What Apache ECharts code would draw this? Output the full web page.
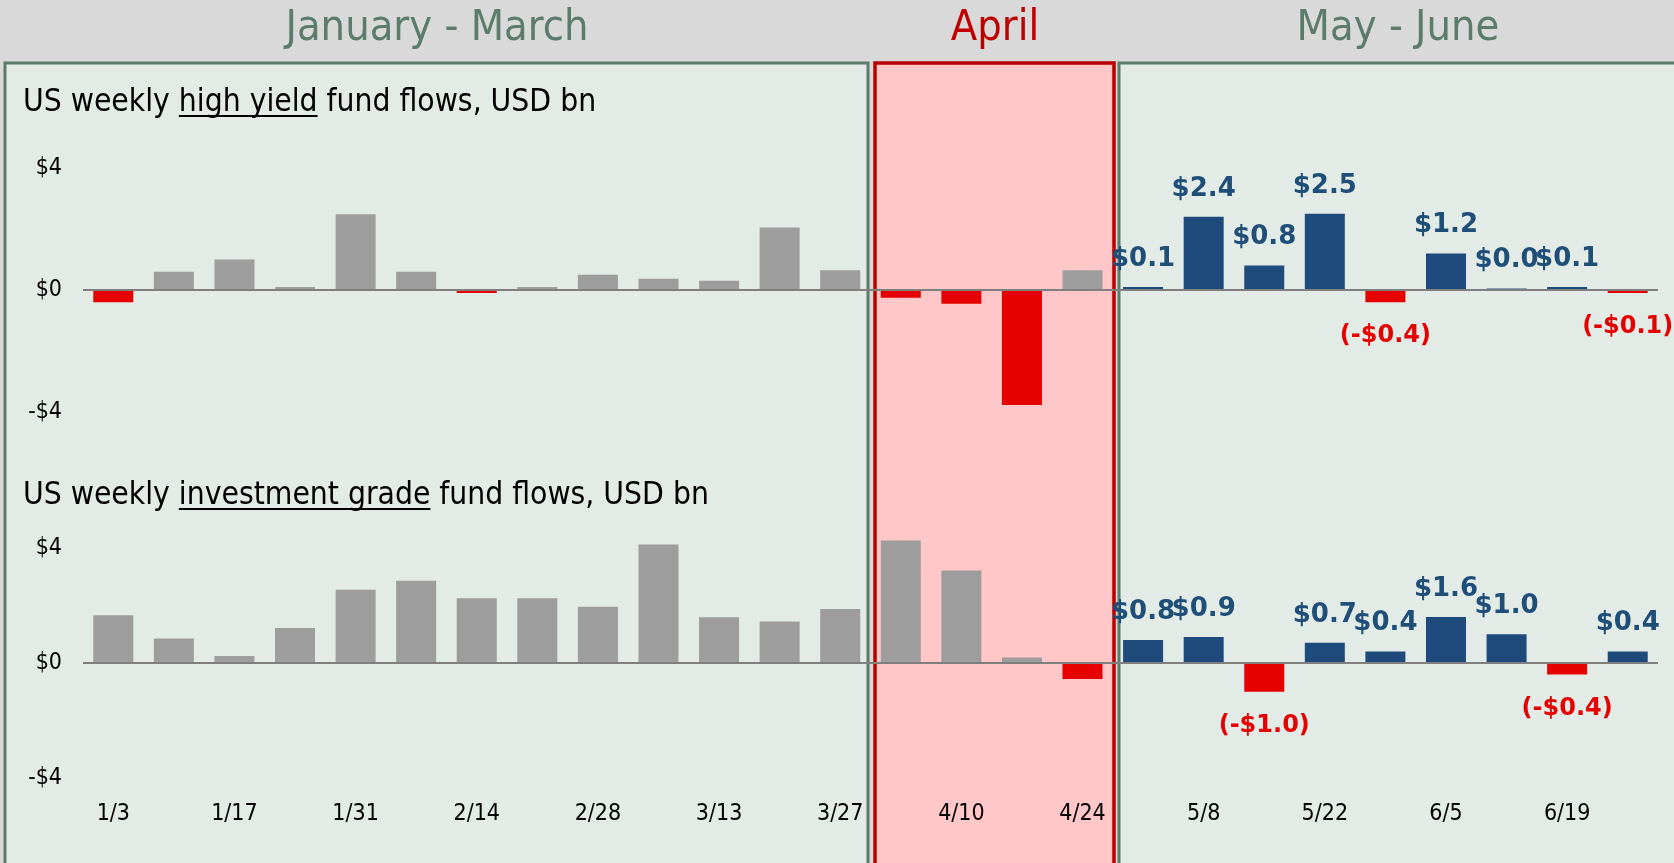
<!DOCTYPE html>
<html>
<head>
<meta charset="utf-8">
<title>US weekly fund flows</title>
<script src="https://cdn.jsdelivr.net/npm/echarts@6.0.0/dist/echarts.min.js"></script>
<style>
  html, body { margin: 0; padding: 0; background: #d9d9d9; }
  #chart { width: 1674px; height: 863px; }
</style>
</head>
<body>
<div id="chart"></div>
<script>
// weekly flows, USD bn
const weeks = ['1/3', '1/10', '1/17', '1/24', '1/31', '2/7', '2/14', '2/21', '2/28', '3/6', '3/13', '3/20', '3/27',
  '4/3', '4/10', '4/17', '4/24',
  '5/1', '5/8', '5/15', '5/22', '5/29', '6/5', '6/12', '6/19', '6/26']
const highYield = [-0.4, 0.6, 1.0, 0.1, 2.48, 0.6, -0.1, 0.1, 0.5, 0.37, 0.3, 2.05, 0.65,
  -0.25, -0.45, -3.77, 0.65,
  0.1, 2.4, 0.8, 2.5, -0.4, 1.2, 0.049, 0.1, -0.1]
const investGrade = [1.66, 0.85, 0.24, 1.22, 2.55, 2.86, 2.25, 2.25, 1.96, 4.12, 1.59, 1.44, 1.88,
  4.26, 3.22, 0.19, -0.56,
  0.8, 0.9, -1.0, 0.7, 0.4, 1.6, 1.0, -0.4, 0.4]
const yTicks = [-4, 0, 4]
const periods = ['January - March', 'April', 'May - June']
const labelFrom = 17 // May - June weeks get value labels

const GRAY = '#9d9d9d'
const RED = '#e60000'
const NAVY = '#1f4a7c'
const GREEN = '#5b7b6b'
const COND = '"DejaVu Sans Condensed", "DejaVu Sans", sans-serif'
const WIDE = '"DejaVu Sans", sans-serif'

const money = (v) => (v < 0 ? '(-$' + (-v).toFixed(1) + ')' : '$' + v.toFixed(1))

const barData = (values) =>
  values.map((v, i) => {
    const labelled = i >= labelFrom
    const color = v < 0 ? RED : labelled ? NAVY : GRAY
    return {
      value: v,
      itemStyle: { color },
      label: {
        show: labelled,
        position: v < 0 ? 'bottom' : 'top',
        distance: v < 0 ? 22 : 15,
        formatter: () => money(v),
        color: v < 0 ? RED : '#1f4e79',
        fontFamily: WIDE,
        fontWeight: 'bold',
        fontSize: v < 0 ? 24 : 26,
      },
    }
  })

const zeroLine = {
  silent: true,
  symbol: ['none', 'none'],
  label: { show: false },
  lineStyle: { color: '#7f7f7f', width: 2, type: 'solid' },
  data: [{ yAxis: 0 }],
}

// max a bit above the last tick so taller bars are not cut off
const yAxisBase = (gridIndex) => ({
  type: 'value',
  gridIndex,
  min: yTicks[0],
  max: 4.5,
  interval: 4,
  splitLine: { show: false },
  axisLine: { show: false },
  axisTick: { show: false },
  axisLabel: {
    margin: 21,
    color: '#000',
    fontFamily: COND,
    fontSize: 23,
    showMaxLabel: false,
    formatter: (v) => (yTicks.includes(v) ? (v < 0 ? '-$' + -v : '$' + v) : ''),
  },
})

// title pieces, with the middle one underlined
const TITLE_FONT = '31.5px "DejaVu Sans Condensed"'
const ctx = document.createElement('canvas').getContext('2d')
ctx.font = TITLE_FONT
const titleGraphic = (parts, x, y) => {
  const els = []
  let cx = x
  parts.forEach((p, i) => {
    const w = ctx.measureText(p).width
    els.push({
      type: 'text',
      x: cx,
      y,
      style: { text: p, font: TITLE_FONT, fill: '#000', verticalAlign: 'middle', align: 'left' },
    })
    if (i === 1) {
      els.push({
        type: 'line',
        shape: { x1: cx, y1: y + 13, x2: cx + w, y2: y + 13 },
        style: { stroke: '#000', lineWidth: 2 },
      })
    }
    cx += w
  })
  return els
}

const chart = echarts.init(document.getElementById('chart'))

const option = {
  animation: false,
  backgroundColor: '#d9d9d9',
  graphic: [
    { type: 'rect', z: -20, shape: { x: 0, y: 0, width: 1674, height: 63 }, style: { fill: '#d9d9d9' } },
    { type: 'rect', z: -10, shape: { x: 5, y: 63, width: 863, height: 840 }, style: { fill: '#e2ebe6', stroke: GREEN, lineWidth: 3 } },
    { type: 'rect', z: -10, shape: { x: 875, y: 63, width: 239, height: 840 }, style: { fill: '#ffc7c7', stroke: '#b80000', lineWidth: 3.5 } },
    { type: 'rect', z: -10, shape: { x: 1119, y: 63, width: 580, height: 840 }, style: { fill: '#e2ebe6', stroke: GREEN, lineWidth: 3 } },
    { type: 'text', x: 437, y: 29, style: { text: periods[0], font: '43px ' + COND, fill: GREEN, align: 'center', verticalAlign: 'middle' } },
    { type: 'text', x: 995, y: 29, style: { text: periods[1], font: '43px ' + COND, fill: '#c00000', align: 'center', verticalAlign: 'middle' } },
    { type: 'text', x: 1398, y: 29, style: { text: periods[2], font: '43px ' + COND, fill: GREEN, align: 'center', verticalAlign: 'middle' } },
    ...titleGraphic(['US weekly ', 'high yield', ' fund flows, USD bn'], 23, 103),
    ...titleGraphic(['US weekly ', 'investment grade', ' fund flows, USD bn'], 23, 496),
  ],
  grid: [
    { left: 83, right: 16, top: 152.75, height: 259.25, outerBoundsMode: 'none' },
    { left: 83, right: 16, top: 533.6, height: 244.4, outerBoundsMode: 'none' },
  ],
  xAxis: [
    {
      type: 'category',
      gridIndex: 0,
      data: weeks,
      axisLine: { show: false, onZero: false },
      axisTick: { show: false },
      axisLabel: { show: false },
    },
    {
      type: 'category',
      gridIndex: 1,
      data: weeks,
      axisLine: { show: false, onZero: false },
      axisTick: { show: false },
      axisLabel: { interval: 1, margin: 25, color: '#000', fontFamily: COND, fontSize: 23 },
    },
  ],
  yAxis: [yAxisBase(0), yAxisBase(1)],
  series: [
    {
      name: 'High yield',
      type: 'bar',
      xAxisIndex: 0,
      yAxisIndex: 0,
      barWidth: 40,
      data: barData(highYield),
      markLine: zeroLine,
    },
    {
      name: 'Investment grade',
      type: 'bar',
      xAxisIndex: 1,
      yAxisIndex: 1,
      barWidth: 40,
      data: barData(investGrade),
      markLine: zeroLine,
    },
  ],
}

chart.setOption(option)
window.addEventListener('resize', () => chart.resize())
</script>
</body>
</html>
